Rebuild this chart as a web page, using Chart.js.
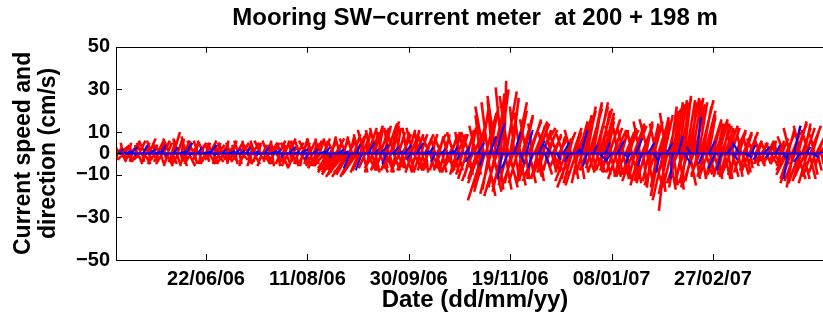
<!DOCTYPE html>
<html>
<head>
<meta charset="utf-8">
<script src="https://cdn.jsdelivr.net/npm/chart.js@4.4.1/dist/chart.umd.min.js"></script>
<style>
  html, body { margin: 0; padding: 0; background: #fff; width: 823px; height: 323px; overflow: hidden; }
  #wrap { position: relative; width: 840px; height: 323px; }
</style>
</head>
<body>
<div id="wrap"><canvas id="chart" width="840" height="323"></canvas></div>
<script>
// ---- Mooring SW current meters: stick vectors (cm/s) ----
const chartTitle = 'Mooring SW\u2212current meter  at 200 + 198 m';
const xAxisTitle = 'Date (dd/mm/yy)';
const yAxisTitle = ['Current speed and', 'direction (cm/s)'];

// x axis tick dates and their labels
const tickDates  = ['2006-06-22', '2006-08-11', '2006-09-30', '2006-11-19', '2007-01-08', '2007-02-27'];
const tickLabels = ['22/06/06', '11/08/06', '30/09/06', '19/11/06', '08/01/07', '27/02/07'];
const yTickValues = [50, 30, 10, 0, -10, -30, -50];

// 200 m meter (red): one vector every 12 h from 9 May 2006 (east u, north v)
const redStart = '2006-05-09';
const redStepDays = 0.5;
const redU = [
  2,-1,-2,3,3,2,-1,-3,2,1,-3,2,1,-2,3,-1,-2,3,2,-2,
  -1,2,3,-3,-2,1,2,3,-3,-2,1,2,3,-1,-2,3,2,-3,-1,1,
  3,-2,-2,2,1,-3,3,1,-2,3,2,-2,-3,1,2,2,3,-3,-1,2,
  2,-3,-3,1,1,2,3,-2,-2,-1,2,3,-1,-3,3,2,-3,1,1,-2,
  -2,2,3,-1,1,3,-3,-2,2,1,-1,3,3,-3,-2,2,1,-1,2,3,
  3,-2,-1,2,2,-3,-3,1,1,2,3,-1,-2,3,2,-2,-1,1,3,-3,
  -2,1,2,3,3,-2,-1,-3,2,2,-3,1,1,-2,3,3,-2,-1,2,-3,
  1,2,-3,-2,2,3,3,-1,-2,2,1,-3,3,1,-1,-2,2,3,-3,1,
  3,-2,-2,3,1,-1,2,2,-3,-3,3,1,-1,2,2,-3,-2,1,3,-2,
  -2,3,3,-1,2,-3,-3,2,1,-2,3,1,-2,-3,2,2,3,-4,-1,-3,
  2,-4,-3,2,3,-5,1,-4,-2,-5,3,-6,2,-5,-3,-6,4,-7,2,-5,
  -2,-7,3,-6,2,-8,-3,-7,4,-6,2,-8,-2,-6,3,-5,4,-7,-2,-4,
  3,-4,4,2,-3,-3,2,4,4,-2,-2,3,3,-4,4,2,-3,-3,2,4,
  4,-3,-3,2,3,4,5,-3,-2,2,4,-4,3,3,-4,-2,2,3,3,-4,
  -3,2,4,-3,2,3,-2,-4,3,2,4,-3,-3,4,2,-2,3,3,-2,-3,
  3,2,-2,-3,4,1,2,-3,-3,2,3,4,1,-2,-2,3,4,-1,2,-3,
  -3,2,3,-2,2,4,-2,-3,4,1,3,-4,-3,2,2,-3,4,2,-2,-4,
  3,-3,-2,4,4,-4,3,2,-4,-3,2,-5,5,3,-3,-4,4,-5,-2,-3,
  3,-7,-4,-5,5,4,-3,-3,4,-5,-2,4,5,-3,-4,-6,3,2,4,-4,
  -3,-5,1,3,5,-4,-4,4,4,-3,3,-5,-2,2,5,-4,4,3,-3,-2,
  5,-3,4,2,-3,-4,6,3,5,-2,-2,-5,6,3,4,-3,5,2,7,-4,
  4,-3,-3,3,5,-2,3,-4,-2,2,4,3,3,-3,-3,2,4,-2,2,-3,
  -3,2,3,-5,4,-3,2,-6,-3,-4,4,2,3,-5,5,-3,4,2,5,-3,
  4,2,5,-3,4,3,6,-2,5,2,4,-3,6,3,5,-2,6,2,4,-3,
  5,3,4,-2,3,-4,5,2,-3,-3,4,3,5,-4,-2,2,4,-3,3,3,
  -3,-4,4,2,5,-3,3,4,-2,-5,4,-3,5,2,3,-4,-3,-3,5,2,
  4,-4,3,3,-4,-3,5,-2,3,4,4,-5,-3,-3,5,-4,4,2,3,-5,
  4,-3,-3,-4,5,3,3,-4,4,2,5,-3,3,-5,4,2,5,-3,3,-4,
  3,-2,4,-4,5,3,3,-3,4,-5,5,2,3,-3,4,-4,6,2,4,-3,
  5,3,4,-4,3,2,5,-3,4,3,6,-4,3,2,4,-3,5,-2,3,3,
  4,-3,5,2,3,-4,4,3,-3,-2,5,-4,4,2,3,-3,-2,3,4,-2,
  3,2,-2,-3,4,1,2,-2,-3,2,3,-1,2,3,-2,-2,3,1,1,-3,
  -2,2,3,-2,2,3,-3,-1,1,2,3,-3,-2,1,2,-2,3,3,-3,-4,
  4,-5,3,-4,-3,-5,4,-3,3,-5,5,4,4,-5,-3,-4,4,3,3,-5,
  4,-4,-3,3,5,-4,3,2,-2,-3,4,2,2,-2,3,1
];
const redV = [
  2,-3,4,-2,3,-4,5,-3,4,-2,3,-4,5,-3,4,-4,3,-2,5,-4,
  4,-5,6,-3,5,-4,3,-5,6,-4,5,-3,7,-5,6,-4,4,-5,5,-3,
  6,-4,4,-6,5,-5,6,-3,4,-6,5,-5,7,-4,6,-5,10,-4,7,-6,
  6,-5,5,-4,7,-6,6,-5,8,-4,5,-6,6,-5,4,-4,6,-5,5,-3,
  6,-4,5,-5,4,-3,6,-5,5,-4,4,-5,6,-3,5,-4,4,-5,5,-4,
  4,-4,5,-3,3,-5,5,-4,6,-3,4,-5,5,-4,6,-3,4,-5,5,-4,
  6,-5,4,-3,5,-6,6,-4,4,-5,5,-4,3,-6,5,-5,6,-4,4,-5,
  5,-3,6,-6,4,-5,5,-4,6,-5,4,-3,5,-6,6,-5,5,-4,4,-6,
  6,-5,5,-7,4,-4,6,-5,5,-6,7,-4,5,-5,4,-7,6,-6,5,-5,
  6,-4,5,-6,7,-5,6,-6,5,-5,6,-4,7,-6,5,-5,6,-7,7,-6,
  6,-5,5,-7,7,-6,6,-8,7,-7,5,-9,8,-8,6,-9,7,-10,5,-8,
  7,-11,6,-9,8,-10,7,-11,6,-10,8,-9,7,-11,9,-8,8,-10,9,-9,
  10,-8,9,-9,11,-7,10,-8,12,-9,11,-8,10,-7,13,-9,12,-8,11,-9,
  12,-8,11,-7,13,-9,14,-8,12,-9,15,-7,13,-8,11,-9,12,-7,10,-8,
  11,-7,9,-8,10,-9,12,-7,11,-8,10,-9,12,-8,11,-7,9,-8,10,-9,
  9,-7,8,-8,9,-9,7,-8,8,-7,9,-9,8,-8,7,-9,9,-7,8,-8,
  7,-9,8,-7,9,-8,8,-9,7,-8,9,-7,10,-9,8,-10,9,-8,10,-9,
  9,-10,10,-9,8,-12,11,-10,10,-11,12,-13,11,-10,13,-12,15,-14,18,-16,
  20,-22,22,-18,19,-20,24,-17,22,-19,25,-18,23,-16,27,-20,28,-17,30,-18,
  31,-16,34,-17,29,-15,27,-16,25,-14,26,-15,22,-13,24,-14,20,-15,19,-13,
  18,-14,17,-12,16,-13,15,-14,16,-12,14,-13,15,-11,13,-12,14,-13,12,-10,
  11,-9,10,-10,11,-8,9,-9,10,-8,8,-9,9,-7,8,-8,7,-9,8,-8,
  9,-10,7,-13,10,-12,8,-16,11,-14,12,-12,10,-15,13,-14,15,-12,17,-10,
  18,-9,20,-8,22,-9,21,-7,24,-8,23,-9,22,-8,24,-7,21,-9,20,-8,
  19,-10,17,-9,15,-8,16,-10,13,-9,12,-11,11,-12,12,-10,10,-11,11,-12,
  12,-11,10,-12,11,-10,12,-11,10,-13,11,-12,13,-14,14,-15,15,-13,13,-16,
  14,-14,15,-15,16,-13,13,-16,14,-14,15,-15,14,-16,16,-20,17,-18,15,-22,
  18,-27,19,-19,20,-17,22,-16,21,-15,23,-16,24,-14,25,-17,26,-15,24,-13,
  27,-16,25,-14,26,-15,24,-13,25,-14,23,-12,26,-11,24,-10,25,-12,22,-11,
  20,-10,18,-11,17,-9,16,-12,15,-11,16,-10,14,-12,15,-11,13,-10,14,-12,
  12,-11,13,-12,11,-10,12,-11,10,-12,11,-10,10,-11,11,-9,9,-10,10,-8,
  9,-9,8,-8,10,-7,8,-6,7,-6,6,-5,5,-6,6,-4,5,-5,4,-4,
  5,-5,6,-4,4,-5,5,-3,6,-4,4,-5,5,-4,6,-6,7,-5,8,-8,
  9,-10,11,-12,12,-14,10,-16,13,-13,14,-12,15,-14,13,-13,12,-12,14,-11,
  12,-14,11,-12,13,-11,10,-10,9,-9,8,-8,6,-6,5,-5
];

// 198 m meter (blue): one vector every third day from 10 May 2006
const blueStart = '2006-05-10';
const blueStepDays = 3;
const blueU = [
  2,3,3,-1,2,3,3,2,-1,2,  3,3,-1,2,3,3,-1,2,3,
  3,2,2,3,-1,2,3,2,-1,3,  2,3,-1,2,3,2,-1,3,2,
  -3,2,-3,3,2,4,-2,3,2,3,  -2,3,3,2,-2,2,3,2,-1,
  2,-3,3,-2,3,4,-2,-3,3,2,  3,-2,3,2,-3,2,3,-2,3,
  3,-2,2,3,2,-3,3,2,-2,3,  -2,3,2,-2,3,-1,2,3,-2,
  2,-2,3,-3,-2,3,2,-3,3,2,-2,  3,-2,2,3,-2,3,-3,2,3,4
];
const blueV = [
  2,1,3,-1,4,2,1,4,-1,3,  1,5,-1,3,1,4,-1,2,1,
  2,1,3,1,-1,3,1,2,-2,3,  1,2,-3,2,1,3,-2,2,1,
  -7,4,-8,5,2,4,-5,3,1,4,  -3,5,1,3,-4,2,1,3,-3,
  3,-4,5,-6,8,14,-12,-7,10,-5,  11,-7,6,-5,4,-3,5,-4,2,
  11,-6,4,-3,5,-4,6,-2,-5,7,  -6,5,-4,-9,5,-12,8,-5,3,
  17,-5,6,-7,-8,4,-3,5,-2,4,-3,  3,-2,4,-3,-12,13,-4,3,-2,1
];

// ---- helpers ----
const DAY_MS = 86400000;
function dayNumber(iso) {
  const [y, m, d] = iso.split('-').map(Number);
  return Date.UTC(y, m - 1, d) / DAY_MS;
}
// horizontal stretch so a vector keeps its true direction on screen
const DAYS_PER_CMS = 1.05;

// each vector: origin on the zero line, tip at (t + u, v), then a gap
function stickPoints(startIso, step, u, v) {
  const t0 = dayNumber(startIso);
  const pts = [];
  for (let i = 0; i < v.length; i++) {
    const t = t0 + i * step;
    const du = (u[i] ?? 0) * DAYS_PER_CMS;
    pts.push({ x: t, y: 0 }, { x: t + du, y: v[i] }, { x: t, y: null });
  }
  return pts;
}

const tickDays = tickDates.map(dayNumber);
const blueT0 = dayNumber(blueStart);
const blueT1 = blueT0 + (blueV.length - 1) * blueStepDays;
const xMin = tickDays[0] - 44.4;
const xMax = tickDays[0] + 309.7;

const FONT = "'Liberation Sans', Arial, Helvetica, sans-serif";

// box around the axes with inward tick marks on all four sides
const framePlugin = {
  id: 'frame',
  afterDraw(chart) {
    const { ctx, chartArea: a, scales: { x, y } } = chart;
    const len = 6;
    ctx.save();
    ctx.strokeStyle = '#000';
    ctx.lineWidth = 1;
    ctx.beginPath();
    ctx.rect(Math.round(a.left) + 0.5, Math.round(a.top) + 0.5,
             Math.round(a.right - a.left), Math.round(a.bottom - a.top));
    x.ticks.forEach(t => {
      const px = Math.round(x.getPixelForValue(t.value)) + 0.5;
      ctx.moveTo(px, a.bottom); ctx.lineTo(px, a.bottom - len);
      ctx.moveTo(px, a.top); ctx.lineTo(px, a.top + len);
    });
    y.ticks.forEach(t => {
      const py = Math.round(y.getPixelForValue(t.value)) + 0.5;
      ctx.moveTo(a.left, py); ctx.lineTo(a.left + len, py);
      ctx.moveTo(a.right, py); ctx.lineTo(a.right - len, py);
    });
    ctx.stroke();
    ctx.restore();
  }
};

new Chart(document.getElementById('chart'), {
  type: 'scatter',
  data: {
    datasets: [
      {
        label: '198 m',
        data: stickPoints(blueStart, blueStepDays, blueU, blueV),
        showLine: true, spanGaps: false,
        borderColor: '#0000ff', borderWidth: 2, pointRadius: 0
      },
      {
        label: '198 m zero line',
        data: [{ x: blueT0, y: 0 }, { x: blueT1, y: 0 }],
        showLine: true,
        borderColor: '#0000ff', borderWidth: 2, pointRadius: 0
      },
      {
        label: '200 m',
        data: stickPoints(redStart, redStepDays, redU, redV),
        showLine: true, spanGaps: false,
        borderColor: '#ff0000', borderWidth: 2.6, pointRadius: 0
      }
    ]
  },
  options: {
    responsive: false,
    animation: false,
    events: [],
    layout: { padding: { left: 0, right: 6, top: 0, bottom: 0 } },
    plugins: {
      legend: { display: false },
      tooltip: { enabled: false },
      title: {
        display: true,
        fullSize: false,
        text: chartTitle,
        color: '#000',
        font: { family: FONT, size: 24, weight: 'bold', lineHeight: 1.2 },
        padding: { top: 4, bottom: 14 }
      }
    },
    scales: {
      x: {
        type: 'linear',
        min: xMin, max: xMax,
        afterBuildTicks: s => { s.ticks = tickDays.map(v => ({ value: v })); },
        afterFit: s => { s.height = 63; },
        grid: { display: false, drawTicks: false },
        border: { display: false },
        ticks: {
          autoSkip: false, maxRotation: 0, padding: 7, color: '#000',
          font: { family: FONT, size: 20, weight: 'bold' },
          callback: (v, i) => tickLabels[i]
        },
        title: {
          display: true, text: xAxisTitle, color: '#000',
          font: { family: FONT, size: 24, weight: 'bold', lineHeight: 1.2 },
          padding: { top: 0, bottom: 8 }
        }
      },
      y: {
        min: -50, max: 50,
        afterBuildTicks: s => { s.ticks = yTickValues.map(v => ({ value: v })); },
        afterFit: s => { s.width = 116; },
        grid: { display: false, drawTicks: false },
        border: { display: false },
        ticks: {
          padding: 6, color: '#000',
          font: { family: FONT, size: 20, weight: 'bold' },
          callback: v => String(v).replace('-', '\u2212')
        },
        title: {
          display: true, text: yAxisTitle, color: '#000',
          font: { family: FONT, size: 23, weight: 'bold', lineHeight: 1.1 },
          padding: { top: 11, bottom: 0 }
        }
      }
    }
  },
  plugins: [framePlugin]
});
</script>
</body>
</html>
